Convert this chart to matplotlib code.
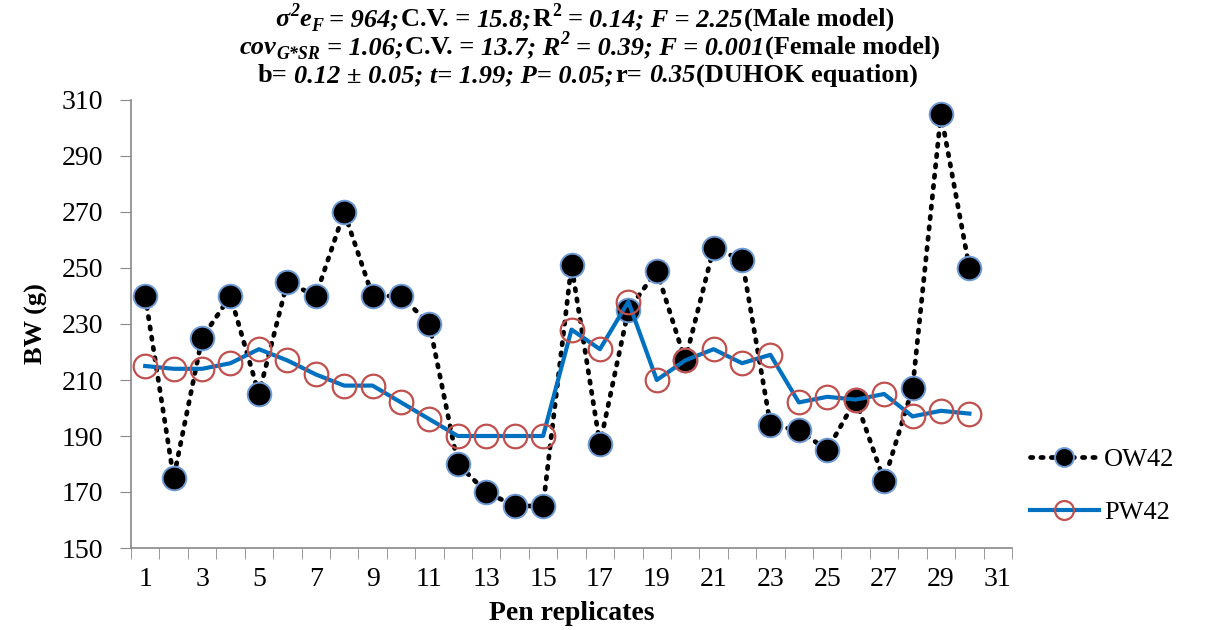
import matplotlib
matplotlib.use("Agg")
import matplotlib.pyplot as plt
import numpy as np

plt.rcParams['font.family'] = ['Liberation Serif', 'DejaVu Serif']

replicates = list(range(1, 31))
ow42 = [240, 175, 225, 240, 205, 245, 240, 270, 240, 240, 230, 180, 170, 165, 165,
        251, 187, 235, 249, 217, 257, 253, 194, 192, 185, 203, 174, 207, 305, 250]
pw42 = [215, 214, 214, 216, 221, 217, 212, 208, 208, 202, 196, 190, 190, 190, 190,
        228, 221, 238, 210, 217, 221, 216, 219, 202, 204, 203, 205, 197, 199, 198]
xtick_labels = [str(i) for i in range(1, 32, 2)]
yticks = list(range(150, 311, 20))

# title segments: (text, italic, kind, gap_after_em)
title_line1 = [("σ", True, "n", 0), ("2", True, "sup", 0), ("e", True, "n", 0),
               ("F", True, "sub", 0.25), ("= 964;", True, "n", 0.05),
               ("C.V. =", False, "n", 0.25), ("15.8;", True, "n", 0.05),
               ("R", False, "n", 0), ("2", False, "sup", 0.25), ("=", False, "n", 0.25),
               ("0.14; F = 2.25", True, "n", 0.05), ("(Male model)", False, "n", 0)]
title_line2 = [("cov", True, "n", 0), ("G*SR", True, "sub", 0.25),
               ("= 1.06;", True, "n", 0.05), ("C.V. =", False, "n", 0.25),
               ("13.7; R", True, "n", 0), ("2", True, "sup", 0.25),
               ("= 0.39; F = 0.001", True, "n", 0.05), ("(Female model)", False, "n", 0)]
title_line3 = [("b=", False, "n", 0.25), ("0.12 ± 0.05; t= 1.99; P= 0.05;", True, "n", 0.05),
               ("r=", False, "n", 0.25), ("0.35", True, "n", 0.05),
               ("(DUHOK equation)", False, "n", 0)]

W, H = 1219, 630
fig = plt.figure(figsize=(W / 100, H / 100), dpi=100)
ax = fig.add_axes([131 / W, 1 - 548 / H, (1012 - 131) / W, (548 - 100) / H])

ax.plot(replicates, ow42, linestyle=(0, (0.5, 1.7)), color='black', linewidth=3.4,
        dash_capstyle='round', marker='o', markersize=17, markerfacecolor='black',
        markeredgecolor='#6E9BD6', markeredgewidth=1.4, label='OW42', zorder=2)
ax.plot(replicates, pw42, linestyle='-', color='#0070C0', linewidth=3.0,
        marker='o', markersize=17, markerfacecolor='none',
        markeredgecolor='#C0504D', markeredgewidth=1.6, label='PW42', zorder=3)

ax.set_xlim(0.5, 31.5)
ax.set_ylim(150, 310)
ax.set_yticks(yticks)
ax.set_xticks(list(range(1, 32, 2)))
ax.set_xticklabels(xtick_labels)
ax.set_xticks(np.arange(0.5, 31.6, 1.0), minor=True)
ax.tick_params(axis='x', which='major', length=0, labelsize=20, pad=14)
ax.tick_params(axis='x', which='minor', length=8, color='#888888', direction='out')
ax.tick_params(axis='y', which='major', length=8, color='#888888', direction='out',
               labelsize=20, pad=12)

for s in ['top', 'right']:
    ax.spines[s].set_visible(False)
for s in ['left', 'bottom']:
    ax.spines[s].set_color('#888888')
    ax.spines[s].set_linewidth(1.2)

ax.set_ylabel('BW (g)', fontsize=19, fontweight='bold', labelpad=10)
ax.set_xlabel('Pen replicates', fontsize=20, fontweight='bold', labelpad=6)

renderer = fig.canvas.get_renderer()


def draw_rich_line(segments, x_center, baseline, size):
    px = size * 100 / 72
    items = []
    for text, italic, kind, gap in segments:
        fs = size * 0.68 if kind in ('sup', 'sub') else size
        t = fig.text(0, 0, text, fontsize=fs, fontweight='bold',
                     fontstyle='italic' if italic else 'normal',
                     ha='left', va='baseline')
        w = t.get_window_extent(renderer).width
        items.append((t, w + gap * px, kind))
    total = sum(w for _, w, _ in items)
    x = x_center - total / 2
    for t, w, kind in items:
        dy = 0.36 * px if kind == 'sup' else (-0.2 * px if kind == 'sub' else 0)
        t.set_position((x / W, 1 - (baseline - dy) / H))
        x += w


draw_rich_line(title_line1, 585, 26, 19)
draw_rich_line(title_line2, 590, 54, 19)
draw_rich_line(title_line3, 588, 82, 19)

fig.legend(loc='center left', bbox_to_anchor=(1030 / W, 1 - 486 / H), frameon=False,
           fontsize=19, handlelength=2.6, labelspacing=1.1, handletextpad=0.2,
           borderaxespad=0, borderpad=0, markerscale=0.8)

fig.savefig('out.png', dpi=100)
